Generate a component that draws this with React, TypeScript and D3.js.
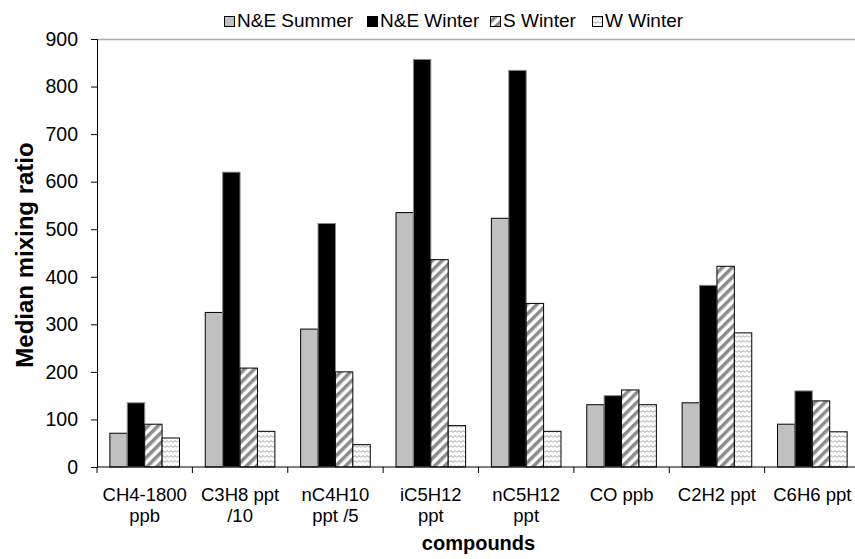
import { useEffect, useRef } from "react";
import * as d3 from "d3";

const categories = [
  ["CH4-1800", "ppb"],
  ["C3H8 ppt", "/10"],
  ["nC4H10", "ppt /5"],
  ["iC5H12", "ppt"],
  ["nC5H12", "ppt"],
  ["CO ppb"],
  ["C2H2 ppt"],
  ["C6H6 ppt"],
];
const seriesNames = ["N&E Summer", "N&E Winter", "S Winter", "W Winter"];
const neSummer = [71, 325, 290, 535, 523, 131, 135, 90];
const neWinter = [135, 620, 512, 857, 834, 150, 382, 160];
const sWinter = [90, 208, 200, 436, 344, 162, 422, 139];
const wWinter = [61, 75, 47, 87, 75, 131, 282, 74];
const yTicks = [0, 100, 200, 300, 400, 500, 600, 700, 800, 900];

const FONT = "'Liberation Sans', Arial, sans-serif";

const App = () => {
  const svgRef = useRef<SVGSVGElement>(null);

  useEffect(() => {
    const svg = d3.select(svgRef.current);
    svg.selectAll("*").remove();

    const margin = { top: 39, left: 97, bottom: 92 };
    const plotW = 763; // plot runs past the right edge of the picture
    const H = 559;
    const height = H - margin.top - margin.bottom;

    const defs = svg.append("defs");
    // diagonal stripes
    const diag = defs
      .append("pattern")
      .attr("id", "diag")
      .attr("patternUnits", "userSpaceOnUse")
      .attr("width", 7)
      .attr("height", 7)
      .attr("patternTransform", "rotate(45)");
    diag.append("rect").attr("width", 7).attr("height", 7).attr("fill", "#fff");
    diag.append("rect").attr("width", 3.5).attr("height", 7).attr("fill", "#8c8c8c");
    // zigzag waves
    const wave = defs
      .append("pattern")
      .attr("id", "wave")
      .attr("patternUnits", "userSpaceOnUse")
      .attr("width", 8)
      .attr("height", 5);
    wave.append("rect").attr("width", 8).attr("height", 5).attr("fill", "#fff");
    wave
      .append("path")
      .attr("d", "M0,3.5 L2,1.5 L4,3.5 L6,1.5 L8,3.5")
      .attr("fill", "none")
      .attr("stroke", "#9a9a9a")
      .attr("stroke-width", 1);

    const fills = ["#c0c0c0", "#000", "url(#diag)", "url(#wave)"];
    const data = [neSummer, neWinter, sWinter, wWinter];

    const g = svg.append("g").attr("transform", `translate(${margin.left},${margin.top})`);

    const x0 = d3
      .scaleBand<number>()
      .domain(d3.range(categories.length))
      .range([0, plotW])
      .paddingInner(0.27)
      .paddingOuter(0.135);
    const x1 = d3.scaleBand<number>().domain(d3.range(4)).range([0, x0.bandwidth()]);
    const y = d3.scaleLinear().domain([0, 900]).range([height, 0]);

    // top border of plot area
    g.append("line")
      .attr("x1", 0)
      .attr("x2", plotW)
      .attr("y1", 0.5)
      .attr("y2", 0.5)
      .attr("stroke", "#aaa")
      .attr("stroke-width", 1.5);

    // bars
    categories.forEach((_, i) => {
      data.forEach((s, j) => {
        g.append("rect")
          .attr("x", x0(i)! + x1(j)!)
          .attr("y", y(s[i]))
          .attr("width", x1.bandwidth())
          .attr("height", height - y(s[i]))
          .attr("fill", fills[j])
          .attr("stroke", j === 1 ? "#888" : "#000")
          .attr("stroke-width", 1);
      });
    });

    // y axis
    const yAxis = g
      .append("g")
      .call(d3.axisLeft(y).tickValues(yTicks).tickSize(6).tickPadding(13));
    yAxis.select(".domain").attr("stroke", "#000");
    yAxis
      .selectAll("text")
      .attr("font-family", FONT)
      .attr("font-size", 19.5)
      .attr("fill", "#000");

    // x axis with ticks at category boundaries
    const step = plotW / categories.length;
    const xAxis = g.append("g").attr("transform", `translate(0,${height})`);
    xAxis
      .append("line")
      .attr("x1", 0)
      .attr("x2", plotW)
      .attr("stroke", "#000");
    d3.range(categories.length + 1).forEach((k) => {
      xAxis
        .append("line")
        .attr("x1", k * step)
        .attr("x2", k * step)
        .attr("y1", 0)
        .attr("y2", 6)
        .attr("stroke", "#000");
    });
    categories.forEach((lines, i) => {
      const t = xAxis
        .append("text")
        .attr("x", x0(i)! + x0.bandwidth() / 2)
        .attr("y", 34)
        .attr("text-anchor", "middle")
        .attr("font-family", FONT)
        .attr("font-size", 18.5);
      lines.forEach((l, k) => {
        t.append("tspan")
          .attr("x", x0(i)! + x0.bandwidth() / 2)
          .attr("dy", k === 0 ? 0 : 21)
          .text(l);
      });
    });

    // axis titles
    svg
      .append("text")
      .attr("x", margin.left + plotW / 2)
      .attr("y", 550)
      .attr("text-anchor", "middle")
      .attr("font-family", FONT)
      .attr("font-size", 20)
      .attr("font-weight", "bold")
      .text("compounds");
    svg
      .append("text")
      .attr("transform", `translate(33,255) rotate(-90)`)
      .attr("text-anchor", "middle")
      .attr("font-family", FONT)
      .attr("font-size", 24)
      .attr("font-weight", "bold")
      .text("Median mixing ratio");

    // legend
    const legendX = [224, 367, 490, 592];
    seriesNames.forEach((name, j) => {
      const lg = svg.append("g").attr("transform", `translate(${legendX[j]},0)`);
      lg.append("rect")
        .attr("x", 0.5)
        .attr("y", 16.5)
        .attr("width", 10)
        .attr("height", 10)
        .attr("fill", fills[j])
        .attr("stroke", "#000");
      lg.append("text")
        .attr("x", 13)
        .attr("y", 27)
        .attr("font-family", FONT)
        .attr("font-size", 19)
        .text(name);
    });
  }, []);

  return (
    <svg
      ref={svgRef}
      width={855}
      height={559}
      style={{ position: "absolute", left: 0, top: 0, background: "#fff" }}
    ></svg>
  );
};

export default App;
